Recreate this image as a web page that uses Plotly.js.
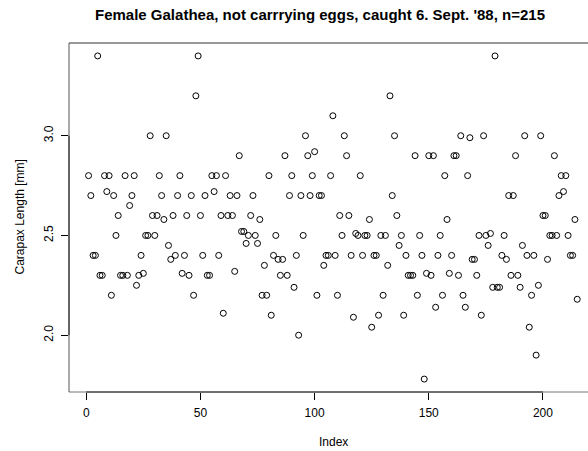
<!DOCTYPE html>
<html>
<head>
<meta charset="utf-8">
<script src="https://cdn.plot.ly/plotly-3.0.1.min.js"></script>
<style>html,body{margin:0;padding:0;background:#fff;}#chart{width:588px;height:451px;}</style>
</head>
<body>
<div id="chart"></div>
<script>
// Carapax lengths [mm], in sampling order (Index 1..215)
const lengths = [
  2.80, 2.70, 2.40, 2.40, 3.40, 2.30, 2.30, 2.80, 2.72, 2.80,
  2.20, 2.70, 2.50, 2.60, 2.30, 2.30, 2.80, 2.30, 2.65, 2.70,
  2.80, 2.25, 2.30, 2.40, 2.31, 2.50, 2.50, 3.00, 2.60, 2.50,
  2.60, 2.80, 2.70, 2.58, 3.00, 2.45, 2.38, 2.60, 2.40, 2.70,
  2.80, 2.31, 2.40, 2.60, 2.30, 2.70, 2.20, 3.20, 3.40, 2.60,
  2.40, 2.70, 2.30, 2.30, 2.80, 2.72, 2.80, 2.40, 2.60, 2.11,
  2.80, 2.60, 2.70, 2.60, 2.32, 2.70, 2.90, 2.52, 2.52, 2.46,
  2.50, 2.60, 2.70, 2.50, 2.46, 2.58, 2.20, 2.35, 2.20, 2.80,
  2.10, 2.40, 2.50, 2.38, 2.30, 2.38, 2.90, 2.30, 2.70, 2.80,
  2.24, 2.40, 2.00, 2.70, 2.50, 3.00, 2.90, 2.70, 2.80, 2.92,
  2.20, 2.70, 2.70, 2.35, 2.40, 2.40, 2.80, 3.10, 2.40, 2.20,
  2.60, 2.50, 3.00, 2.90, 2.60, 2.40, 2.09, 2.51, 2.50, 2.80,
  2.40, 2.50, 2.50, 2.58, 2.04, 2.40, 2.40, 2.10, 2.50, 2.20,
  2.50, 2.35, 3.20, 2.70, 3.00, 2.60, 2.45, 2.50, 2.10, 2.40,
  2.30, 2.30, 2.30, 2.90, 2.20, 2.50, 2.40, 1.78, 2.31, 2.90,
  2.30, 2.90, 2.14, 2.40, 2.50, 2.20, 2.80, 2.58, 2.31, 2.40,
  2.90, 2.90, 2.30, 3.00, 2.20, 2.14, 2.80, 2.99, 2.38, 2.38,
  2.30, 2.50, 2.10, 3.00, 2.50, 2.45, 2.51, 2.24, 3.40, 2.24,
  2.24, 2.40, 2.50, 2.38, 2.70, 2.30, 2.70, 2.90, 2.30, 2.24,
  2.45, 3.00, 2.40, 2.04, 2.20, 2.40, 1.90, 2.25, 3.00, 2.60,
  2.60, 2.38, 2.50, 2.50, 2.90, 2.50, 2.70, 2.80, 2.72, 2.80,
  2.50, 2.40, 2.40, 2.58, 2.18
];
const index = lengths.map((_, i) => i + 1);

const xTicks = [0, 50, 100, 150, 200];
const yTicks = [2.0, 2.5, 3.0];
const yTickLabels = ["2.0", "2.5", "3.0"];

const titleText = "Female Galathea, not carrrying eggs, caught 6. Sept. '88, n=215";
const xTitle = "Index";
const yTitle = "Carapax Length [mm]";

// R-style axis ranges (4% extension)
const n = lengths.length;
const ymin = Math.min(...lengths), ymax = Math.max(...lengths);
const ext = 0.04 * (ymax - ymin);
const xext = 0.04 * (n - 1);
const W = 588, L = 69;
// x scale: plot region in R extends past the picture's right edge
const pxPerUnit = 2.2835;
const xLeft = 1 - xext;
const xRight = xLeft + (W - L) / pxPerUnit;

const FONT = "Liberation Sans, Arial, Helvetica, sans-serif";

const trace = {
  x: index, y: lengths, type: "scatter", mode: "markers",
  marker: {symbol: "circle-open", size: 6, color: "#000", line: {width: 1, color: "#000"}},
  hoverinfo: "x+y", showlegend: false
};

const layout = {
  width: 588, height: 451,
  margin: {l: L, r: 0, t: 43, b: 59, pad: 0},
  paper_bgcolor: "#fff", plot_bgcolor: "#fff",
  font: {family: FONT, size: 12, color: "#000"},
  title: {
    text: "<b>" + titleText + "</b>",
    font: {family: FONT, size: 15, color: "#000"},
    xref: "container", x: 320 / 588, xanchor: "center",
    yref: "container", y: 1 - 15 / 451, yanchor: "middle"
  },
  xaxis: {
    range: [xLeft, xRight], autorange: false,
    tickmode: "array", tickvals: xTicks, ticktext: xTicks.map(String),
    ticks: "outside", ticklen: 7, tickwidth: 1, tickcolor: "#000",
    ticklabelstandoff: 3,
    showgrid: false, zeroline: false, showline: false,
    tickfont: {family: FONT, size: 12, color: "#000"}
  },
  yaxis: {
    range: [ymin - ext, ymax + ext], autorange: false,
    tickmode: "array", tickvals: yTicks, ticktext: yTickLabels,
    ticks: "outside", ticklen: 7, tickwidth: 1, tickcolor: "#000",
    tickangle: -90, ticklabelstandoff: 3,
    showgrid: false, zeroline: false, showline: false,
    tickfont: {family: FONT, size: 12, color: "#000"}
  },
  shapes: [
    // plot box (right side lies outside the picture)
    {type: "line", xref: "paper", yref: "paper", x0: 0, x1: 1, y0: 1, y1: 1, line: {color: "#333", width: 1}},
    {type: "line", xref: "paper", yref: "paper", x0: 0, x1: 1, y0: 0, y1: 0, line: {color: "#777", width: 1}},
    {type: "line", xref: "paper", yref: "paper", x0: 0, x1: 0, y0: 0, y1: 1, line: {color: "#555", width: 1}},
    // axis lines spanning first..last tick
    {type: "line", xref: "x", yref: "paper", x0: xTicks[0], x1: xTicks[xTicks.length - 1], y0: 0, y1: 0, line: {color: "#222", width: 1}},
    {type: "line", xref: "paper", yref: "y", x0: 0, x1: 0, y0: yTicks[0], y1: yTicks[yTicks.length - 1], line: {color: "#222", width: 1}}
  ],
  annotations: [
    {text: xTitle, xref: "paper", yref: "paper", x: (333 - L) / (W - L), y: -(442 - 392) / 349,
     xanchor: "center", yanchor: "middle", showarrow: false, font: {family: FONT, size: 12, color: "#000"}},
    {text: yTitle, xref: "paper", yref: "paper", x: -(69 - 19) / (W - L), y: 0.5, textangle: -90,
     xanchor: "center", yanchor: "middle", showarrow: false, font: {family: FONT, size: 12, color: "#000"}}
  ]
};

Plotly.newPlot("chart", [trace], layout, {displayModeBar: false, staticPlot: true});
</script>
</body>
</html>
